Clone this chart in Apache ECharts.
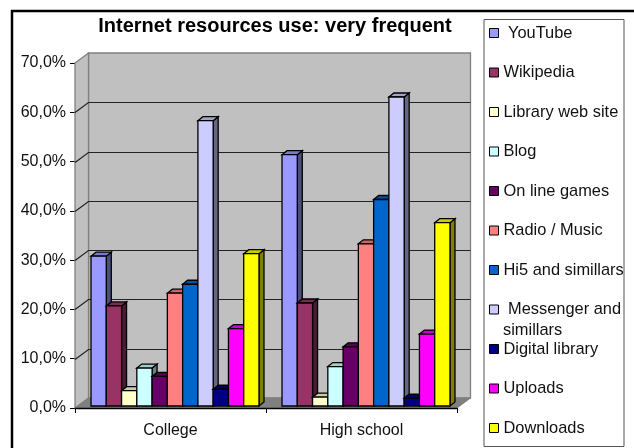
<!DOCTYPE html>
<html><head><meta charset="utf-8">
<style>html,body{margin:0;padding:0;background:#fff}#c{width:634px;height:448px}</style>
<script src="https://cdn.jsdelivr.net/npm/echarts@6/dist/echarts.min.js"></script>
</head><body><div id="c"></div>
<script>
const categories = ['College', 'High school'];
const seriesNames = ['YouTube','Wikipedia','Library web site','Blog','On line games','Radio / Music','Hi5 and simillars','Messenger and simillars','Digital library','Uploads','Downloads'];
const legendLabels = [' YouTube','Wikipedia','Library web site','Blog','On line games','Radio / Music','Hi5 and simillars',' Messenger and','Digital library','Uploads','Downloads'];
const youtube = [30.4, 51.0];
const wikipedia = [20.3, 20.9];
const librarySite = [3.1, 1.8];
const blog = [7.7, 8.0];
const games = [6.0, 12.0];
const radio = [22.9, 32.9];
const hi5 = [24.7, 41.9];
const messenger = [57.9, 62.7];
const digital = [3.4, 1.6];
const uploads = [15.7, 14.6];
const downloads = [30.9, 37.2];
const values = [youtube,wikipedia,librarySite,blog,games,radio,hi5,messenger,digital,uploads,downloads];
const colors = ['#9999ff','#993366','#ffffcc','#ccffff','#660066','#ff8080','#0066cc','#ccccff','#000080','#ff00ff','#ffff00'];
const topColors = ['#7a7acc','#7a2952','#ccccA3','#a3cccc','#520052','#cc6666','#0052a3','#a3a3cc','#000066','#cc00cc','#cccc00'];
const sideColors = ['#4d4d80','#4d1a33','#808066','#668080','#330033','#804040','#003366','#666680','#000040','#800080','#808000'];
const ticks = [0,10,20,30,40,50,60,70];

const DX = 13.5, DY = 10, BW = 15.27, BDX = 5, BDY = 4;

function walls(params, api) {
  const cs = params.coordSys;
  const L = cs.x, R = cs.x + cs.width, T = cs.y, B = cs.y + cs.height;
  const gridStyle = {stroke:'#222', lineWidth:1.2, fill:null};
  const kids = [
    {type:'polygon',shape:{points:[[L+DX,T-DY],[R+DX,T-DY],[R+DX,B-DY],[L+DX,B-DY]]},style:{fill:'#c0c0c0',stroke:'#808080',lineWidth:1.3}},
    {type:'polygon',shape:{points:[[L,T],[L+DX,T-DY],[L+DX,B-DY],[L,B]]},style:{fill:'#c0c0c0',stroke:'#808080',lineWidth:1.3}},
    {type:'polygon',shape:{points:[[L,B],[L+DX,B-DY],[R+DX,B-DY],[R,B]]},style:{fill:'#808080',stroke:'#808080',lineWidth:1}}
  ];
  ticks.forEach(t => {
    if (t === 0 || t === 70) return;
    const y = Math.round(api.coord([0,t])[1]) + 0.5;
    kids.push({type:'polyline',shape:{points:[[L,y],[L+DX,y-DY],[R+DX,y-DY]]},style:gridStyle});
  });
  return {type:'group',children:kids};
}

function bar3d(params, api) {
  const c = params.seriesIndex - 1;
  const cat = api.value(0);
  const p = api.coord([cat, api.value(1)]);
  const p0 = api.coord([cat, 0]);
  const x = p[0] + 4.5 - BW*11/2 + c*BW;
  const yb = p0[1] - 2, yt = p[1] - 2;
  const ln = {stroke:'#000', lineWidth:1.3};
  return {type:'group',children:[
    {type:'polygon',shape:{points:[[x+BW,yt],[x+BW+BDX,yt-BDY],[x+BW+BDX,yb-BDY],[x+BW,yb]]},style:{fill:sideColors[c],...ln}},
    {type:'polygon',shape:{points:[[x,yt],[x+BDX,yt-BDY],[x+BW+BDX,yt-BDY],[x+BW,yt]]},style:{fill:topColors[c],...ln}},
    {type:'rect',shape:{x:x,y:yt,width:BW,height:yb-yt},style:{fill:colors[c],...ln}}
  ]};
}

const series = [{type:'custom',name:'walls',silent:true,renderItem:walls,data:[[0,0]],z:1,encode:{x:0,y:1}}];
seriesNames.forEach((n,i)=>{
  series.push({type:'custom',name:n,renderItem:bar3d,itemStyle:{color:colors[i]},z:2,encode:{x:0,y:1},
    data:values[i].map((v,k)=>[k,v])});
});

const chart = echarts.init(document.getElementById('c'),null,{renderer:'canvas'});
chart.setOption({
  animation:false,
  backgroundColor:'#fff',
  title:{text:'Internet resources use: very frequent',left:270,top:11,textAlign:'center',
    textStyle:{fontFamily:'Liberation Sans',fontSize:20,fontWeight:'bold',color:'#000'}},
  grid:{left:75,right:177,top:63,bottom:40,containLabel:false},
  xAxis:{type:'category',data:categories,boundaryGap:true,
    axisLine:{show:true,lineStyle:{color:'#000',width:1.3}},
    axisTick:{show:true,length:5,lineStyle:{color:'#000'},alignWithLabel:false},
    axisLabel:{fontFamily:'Liberation Sans',fontSize:16,color:'#111',margin:15},z:5},
  yAxis:{type:'value',min:0,max:70,interval:10,
    axisLine:{show:true,lineStyle:{color:'#000'}},
    axisTick:{show:true,length:5,lineStyle:{color:'#000'}},
    splitLine:{show:false},
    axisLabel:{fontFamily:'Liberation Sans',fontSize:16,color:'#111',margin:9,
      formatter:v=>v.toFixed(1).replace('.',',')+'%'}},
  legend:{orient:'vertical',left:489,top:25,padding:0,itemWidth:9,itemHeight:9,itemGap:23.5,
    data:seriesNames,icon:'rect',selectedMode:false,
    itemStyle:{borderColor:'#000',borderWidth:1},
    formatter:n=>legendLabels[seriesNames.indexOf(n)],
    textStyle:{fontFamily:'Liberation Sans',fontSize:16.4,color:'#111'}},
  graphic:[
    {type:'rect',shape:{x:12,y:11,width:640,height:470},style:{fill:null,stroke:'#000',lineWidth:2.5},z:-1,silent:true},
    {type:'rect',shape:{x:484,y:19.5,width:140,height:427},style:{fill:'#fff',stroke:'#555',lineWidth:1},z:-1,silent:true},
    {type:'text',x:503,y:322,style:{text:'simillars',fontFamily:'Liberation Sans',fontSize:16.4,fill:'#111'},z:10,silent:true}
  ],
  series
});
</script></body></html>
